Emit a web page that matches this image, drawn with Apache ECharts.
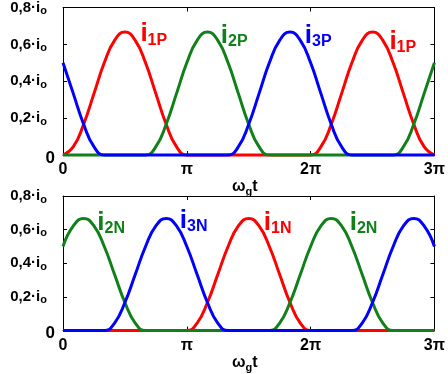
<!DOCTYPE html>
<html>
<head>
<meta charset="utf-8">
<script src="https://cdn.jsdelivr.net/npm/echarts@6/dist/echarts.min.js"></script>
<style>
  html, body { margin: 0; padding: 0; background: #fff; }
  #chart { width: 448px; height: 374px; }
</style>
</head>
<body>
<div id="chart"></div>
<script>
// angle axis in degrees, 0 .. 3pi
var angles = [0,15,30,45,60,75,90,105,120,135,150,165,180,195,210,225,240,255,270,
  285,300,315,330,345,360,375,390,405,420,435,450,465,480,495,510,525,540];

// upper panel (P currents)
var redTop = [0,.045,.167,.333,.5,.622,.667,.622,.5,.333,.167,.045,0,
  0,0,0,0,0,0,0,0,0,0,0,0,
  .045,.167,.333,.5,.622,.667,.622,.5,.333,.167,.045,0];
var greenTop = [0,0,0,0,0,0,0,0,0,
  .045,.167,.333,.5,.622,.667,.622,.5,.333,.167,.045,0,
  0,0,0,0,0,0,0,0,0,0,0,0,
  .045,.167,.333,.5];
var blueTop = [.5,.333,.167,.045,
  0,0,0,0,0,0,0,0,0,0,0,0,0,
  .045,.167,.333,.5,.622,.667,.622,.5,.333,.167,.045,
  0,0,0,0,0,0,0,0,0];

// lower panel (N currents)
var greenBot = [.5,.622,.667,.622,.5,.333,.167,.045,
  0,0,0,0,0,0,0,0,0,0,0,0,0,
  .045,.167,.333,.5,.622,.667,.622,.5,.333,.167,.045,
  0,0,0,0,0];
var blueBot = [0,0,0,0,0,
  .045,.167,.333,.5,.622,.667,.622,.5,.333,.167,.045,
  0,0,0,0,0,0,0,0,0,0,0,0,0,
  .045,.167,.333,.5,.622,.667,.622,.5];
var redBot = [0,0,0,0,0,0,0,0,0,0,0,0,0,
  .045,.167,.333,.5,.622,.667,.622,.5,.333,.167,.045,
  0,0,0,0,0,0,0,0,0,0,0,0,0];

var yTicks = [0, 0.2, 0.4, 0.6, 0.8];
var yTickText = {0: '0', 0.2: '0,2·', 0.4: '0,4·', 0.6: '0,6·', 0.8: '0,8·'};
var xTickText = {0: '0', 180: 'π', 360: '2π', 540: '3π'};

// curve labels: [text, sub, x(deg), y, colour index]
var labelsTop = [['i', '1P', 132, 0.655, 0], ['i', '2P', 249, 0.645, 1], ['i', '3P', 371, 0.645, 2], ['i', '1P', 494, 0.615, 0]];
var labelsBot = [['i', '2N', 70, 0.64, 1], ['i', '3N', 190, 0.655, 2], ['i', '1N', 312, 0.64, 0], ['i', '2N', 437, 0.64, 1]];

var colors = ['#ff0000', '#11801a', '#0000ff'];
var FONT = '"Liberation Sans", Arial, sans-serif';

function zip(v) {
  var out = [];
  for (var i = 0; i < angles.length; i++) out.push([angles[i], v[i]]);
  return out;
}

var chart = echarts.init(document.getElementById('chart'));

var grids = [
  {left: 63, top: 7, width: 374, height: 148},
  {left: 63, top: 196, width: 374, height: 146}
];

var xAxis = [], yAxis = [];
for (var g = 0; g < 2; g++) {
  xAxis.push({
    type: 'value', gridIndex: g, min: 0, max: 540, interval: 180,
    axisLine: {show: true, onZero: false, lineStyle: {color: '#000', width: 1}},
    axisTick: {show: true, inside: true, length: 4, lineStyle: {color: '#000'}},
    splitLine: {show: false},
    axisLabel: {
      margin: 7, fontFamily: FONT, fontWeight: 'bold', fontSize: 16, color: '#000',
      formatter: function (v) { return xTickText[v] || ''; }
    },
    name: 'ω{g|g}t', nameLocation: 'middle', nameGap: 18,
    nameTextStyle: {
      fontFamily: FONT, fontWeight: 'bold', fontSize: 16, color: '#000', padding: [0, 8, 0, 0],
      rich: {g: {fontFamily: FONT, fontWeight: 'bold', fontSize: 11, color: '#000', padding: [10, 0, 0, 0]}}
    }
  });
  xAxis.push({
    type: 'value', gridIndex: g, position: 'top', min: 0, max: 540, interval: 180,
    axisLine: {show: true, onZero: false, lineStyle: {color: '#000', width: 1}},
    axisTick: {show: true, inside: true, length: 4, lineStyle: {color: '#000'}},
    axisLabel: {show: false}, splitLine: {show: false}
  });
  yAxis.push({
    type: 'value', gridIndex: g, min: 0, max: 0.8, interval: 0.2,
    axisLine: {show: true, onZero: false, lineStyle: {color: '#000', width: 1}},
    axisTick: {show: true, inside: true, length: 4, lineStyle: {color: '#000'}},
    splitLine: {show: false},
    axisLabel: {
      margin: 8, color: '#000',
      formatter: function (v) {
        var k = Math.round(v * 10) / 10;
        if (k === 0) return '{z|0}';
        return '{n|' + yTickText[k] + 'i}{s|o}{gap|}';
      },
      rich: {
        z: {fontFamily: FONT, fontWeight: 'bold', fontSize: 17, color: '#000', padding: [6, 0, 0, 0]},
        n: {fontFamily: FONT, fontWeight: 'bold', fontSize: 15, color: '#000'},
        s: {fontFamily: FONT, fontWeight: 'bold', fontSize: 11, color: '#000', padding: [7, 0, 0, 0]},
        gap: {width: 8}
      }
    }
  });
  yAxis.push({
    type: 'value', gridIndex: g, position: 'right', min: 0, max: 0.8, interval: 0.2,
    axisLine: {show: true, onZero: false, lineStyle: {color: '#000', width: 1}},
    axisTick: {show: true, inside: true, length: 4, lineStyle: {color: '#000'}},
    axisLabel: {show: false}, splitLine: {show: false}
  });
}

function markFor(list, ci) {
  var data = [];
  list.forEach(function (l) {
    if (l[4] !== ci) return;
    data.push({
      coord: [l[2], l[3]],
      label: {formatter: '{i|' + l[0] + '}{s|' + l[1] + '}'}
    });
  });
  return {
    symbol: 'circle', symbolSize: 1, itemStyle: {color: 'rgba(0,0,0,0)'},
    silent: true, animation: false,
    label: {
      show: true, position: 'inside',
      rich: {
        i: {fontFamily: FONT, fontWeight: 'bold', fontSize: 26, color: colors[ci]},
        s: {fontFamily: FONT, fontWeight: 'bold', fontSize: 16, color: colors[ci], padding: [12, 0, 0, 0]}
      }
    },
    data: data
  };
}

function line(values, ci, g, labels) {
  return {
    type: 'line', xAxisIndex: g * 2, yAxisIndex: g * 2,
    data: zip(values), smooth: true, showSymbol: false, clip: false,
    lineStyle: {color: colors[ci], width: 3}, itemStyle: {color: colors[ci]},
    markPoint: markFor(labels, ci)
  };
}

var option = {
  animation: false,
  backgroundColor: '#fff',
  grid: grids,
  xAxis: xAxis,
  yAxis: yAxis,
  series: [
    line(redTop, 0, 0, labelsTop),
    line(greenTop, 1, 0, labelsTop),
    line(blueTop, 2, 0, labelsTop),
    line(redBot, 0, 1, labelsBot),
    line(greenBot, 1, 1, labelsBot),
    line(blueBot, 2, 1, labelsBot)
  ]
};

chart.setOption(option);
</script>
</body>
</html>
